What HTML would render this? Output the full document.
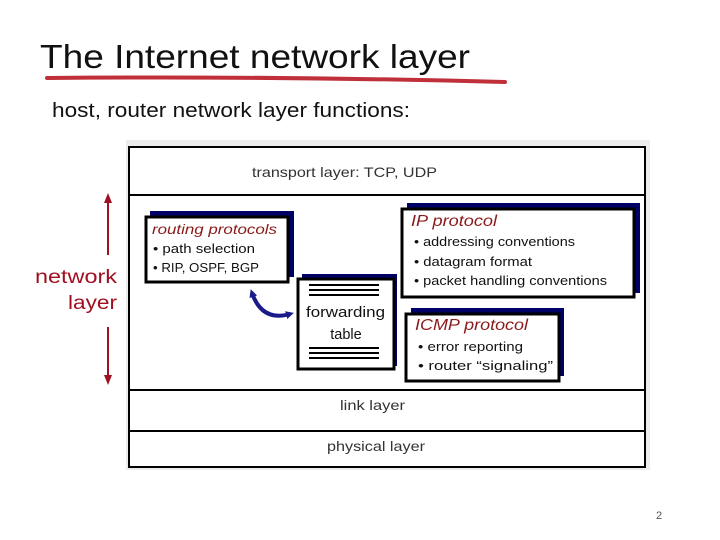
<!DOCTYPE html>
<html><head><meta charset="utf-8"><style>
html,body{margin:0;padding:0;background:#fff;}
svg{display:block;font-family:"Liberation Sans",sans-serif;}
</style></head><body>
<svg width="720" height="540" viewBox="0 0 720 540" xmlns="http://www.w3.org/2000/svg">
<defs>
<marker id="ar" markerWidth="8" markerHeight="8" refX="4" refY="4" orient="auto-start-reverse" markerUnits="userSpaceOnUse"><path d="M0,0 L8,4 L0,8 z" fill="#1a1a8a"/></marker>
</defs>
<text x="40" y="68" font-size="33" fill="#111" textLength="430" lengthAdjust="spacingAndGlyphs">The Internet network layer</text>
<path d="M47,78 Q280,76 505,82" stroke="#c0303a" stroke-width="4" fill="none" stroke-linecap="round"/>
<text x="52" y="117" font-size="20" fill="#111" textLength="358" lengthAdjust="spacingAndGlyphs">host, router network layer functions:</text>

<rect x="126" y="140" width="524" height="330" fill="#ececec"/>
<rect x="129" y="147" width="516" height="320" fill="#fff" stroke="#000" stroke-width="2"/>
<line x1="129" y1="195" x2="645" y2="195" stroke="#000" stroke-width="2"/>
<line x1="129" y1="390" x2="645" y2="390" stroke="#000" stroke-width="2"/>
<line x1="129" y1="431" x2="645" y2="431" stroke="#000" stroke-width="2"/>
<text x="252" y="177" font-size="14" fill="#333" textLength="185" lengthAdjust="spacingAndGlyphs">transport layer: TCP, UDP</text>
<text x="340" y="410" font-size="14" fill="#333" textLength="65" lengthAdjust="spacingAndGlyphs">link layer</text>
<text x="327" y="451" font-size="14" fill="#333" textLength="98" lengthAdjust="spacingAndGlyphs">physical layer</text>

<!-- network layer arrow -->
<line x1="108" y1="200" x2="108" y2="255" stroke="#a01020" stroke-width="2"/>
<path d="M104,203 L108,193 L112,203 z" fill="#a01020"/>
<line x1="108" y1="327" x2="108" y2="378" stroke="#a01020" stroke-width="2"/>
<path d="M104,375 L108,385 L112,375 z" fill="#a01020"/>
<text x="35" y="283" font-size="19" fill="#a01020" textLength="82" lengthAdjust="spacingAndGlyphs">network</text>
<text x="68" y="309" font-size="19" fill="#a01020" textLength="49" lengthAdjust="spacingAndGlyphs">layer</text>

<!-- routing -->
<rect x="150" y="211" width="144" height="66" fill="#000066"/>
<rect x="146" y="217" width="142" height="65" fill="#fff" stroke="#000" stroke-width="3"/>
<text x="152" y="234" font-size="14" font-style="italic" fill="#8b1a1a" textLength="125" lengthAdjust="spacingAndGlyphs">routing protocols</text>
<text x="153" y="253" font-size="12.5" fill="#111" textLength="102" lengthAdjust="spacingAndGlyphs">• path selection</text>
<text x="153" y="272" font-size="12.5" fill="#111" textLength="106" lengthAdjust="spacingAndGlyphs">• RIP, OSPF, BGP</text>

<!-- IP -->
<rect x="407" y="203" width="233" height="90" fill="#000066"/>
<rect x="402" y="209" width="232" height="88" fill="#fff" stroke="#000" stroke-width="3"/>
<text x="411" y="226" font-size="16" font-style="italic" fill="#8b1a1a" textLength="86" lengthAdjust="spacingAndGlyphs">IP protocol</text>
<text x="414" y="246" font-size="12.5" fill="#111" textLength="161" lengthAdjust="spacingAndGlyphs">• addressing conventions</text>
<text x="414" y="266" font-size="12.5" fill="#111" textLength="118" lengthAdjust="spacingAndGlyphs">• datagram format</text>
<text x="414" y="285" font-size="12.5" fill="#111" textLength="193" lengthAdjust="spacingAndGlyphs">• packet handling conventions</text>

<!-- ICMP -->
<rect x="411" y="308" width="153" height="68" fill="#000066"/>
<rect x="406" y="314" width="153" height="67" fill="#fff" stroke="#000" stroke-width="3"/>
<text x="415" y="330" font-size="16" font-style="italic" fill="#8b1a1a" textLength="113" lengthAdjust="spacingAndGlyphs">ICMP protocol</text>
<text x="418" y="351" font-size="12.5" fill="#111" textLength="105" lengthAdjust="spacingAndGlyphs">• error reporting</text>
<text x="418" y="370" font-size="12.5" fill="#111" textLength="135" lengthAdjust="spacingAndGlyphs">• router “signaling”</text>

<!-- forwarding -->
<rect x="302" y="274" width="95" height="92" fill="#000066"/>
<rect x="298" y="279" width="96" height="90" fill="#fff" stroke="#000" stroke-width="3"/>
<g stroke="#000" stroke-width="2">
<line x1="309" y1="285" x2="379" y2="285"/><line x1="309" y1="290" x2="379" y2="290"/><line x1="309" y1="295" x2="379" y2="295"/>
<line x1="309" y1="348" x2="379" y2="348"/><line x1="309" y1="353" x2="379" y2="353"/><line x1="309" y1="358" x2="379" y2="358"/>
</g>
<text x="306" y="317" font-size="14.5" fill="#111" textLength="79" lengthAdjust="spacingAndGlyphs">forwarding</text>
<text x="346" y="339" font-size="14.5" fill="#111" text-anchor="middle">table</text>

<!-- curved arrow -->
<path d="M252,293 Q262,322 290,314" stroke="#1a1a8a" stroke-width="4" fill="none" marker-start="url(#ar)" marker-end="url(#ar)"/>

<text x="659" y="519" font-size="11" fill="#555" text-anchor="middle">2</text>
</svg>
</body></html>
